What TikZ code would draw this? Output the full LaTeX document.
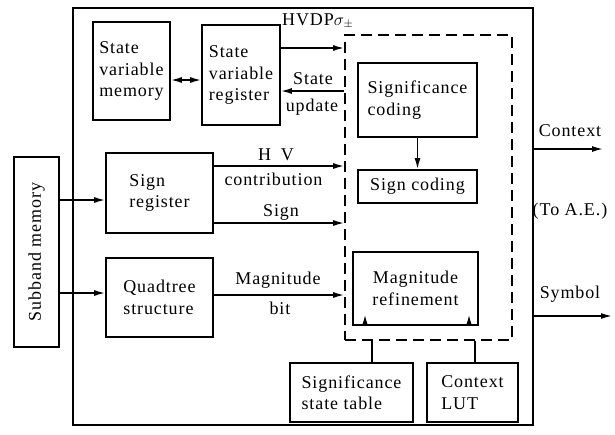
\documentclass[tikz,border=0pt]{standalone}
\usepackage{fontspec}
\setmainfont{Liberation Serif}[LetterSpace=5.0]
\usetikzlibrary{arrows.meta}
\begin{document}
\begin{tikzpicture}[x=1pt,y=-1pt,
  every node/.style={font=\fontsize{18}{21.5}\selectfont, inner sep=0pt},
  blk/.style={draw, line width=1.8pt, align=left},
  conn/.style={line width=1.5pt, -{Latex[length=11pt,width=6pt]}},
  lbl/.style={}]
\useasboundingbox (0,0) rectangle (615,434);
% outer frame
\node[draw, line width=1.8pt, minimum width=460pt, minimum height=417pt] (outer) at (303,216.5) {};
% dashed region
\node[draw, line width=1.8pt, dash pattern=on 11pt off 6pt, minimum width=167pt, minimum height=305pt] (dbox) at (428.5,187.5) {};
% blocks
\node[blk, minimum width=77pt, minimum height=98pt] (svm) at (131.5,71) {State\\variable\\memory};
\node[blk, minimum width=78pt, minimum height=100pt] (svr) at (241,75) {State\\variable\\register};
\node[blk, minimum width=119pt, minimum height=74pt] (sigc) at (417.5,100) {Significance\\coding};
\node[blk, minimum width=119pt, minimum height=33pt] (signc) at (417.5,186.5) {Sign coding};
\node[blk, align=center, minimum width=125pt, minimum height=73pt] (magr) at (415.5,288.5) {Magnitude\\refinement};
\node[blk, minimum width=123pt, minimum height=59pt] (sst) at (351.5,392.5) {Significance\\state table};
\node[blk, minimum width=91pt, minimum height=59pt] (lut) at (472.5,392.5) {Context\\LUT};
\node[blk, minimum width=107pt, minimum height=80pt] (sreg) at (159.5,193) {Sign\\register};
\node[blk, minimum width=107pt, minimum height=79pt] (qt) at (159.5,297.5) {Quadtree\\structure};
\node[blk, minimum width=45pt, minimum height=190pt] (sub) at (36.5,252) {};
\node[rotate=90] (subt) at (sub.center) {Subband memory};
% connectors
\draw[line width=1.5pt, {Latex[length=11pt,width=6pt]}-{Latex[length=11pt,width=6pt]}] ([yshift=-9pt]svm.east) -- ([yshift=-9pt]svm.east -| svr.west);
\draw[conn] ([yshift=27pt]svr.east) -- ([yshift=27pt]svr.east -| dbox.west);
\draw[conn] ([yshift=-16pt]svr.east -| dbox.west) -- ([yshift=-16pt]svr.east);
\draw[conn] (sigc.south) -- (signc.north);
\draw[conn] ([yshift=27pt]sreg.east) -- ([yshift=27pt]sreg.east -| dbox.west);
\draw[conn] ([yshift=-30pt]sreg.east) -- ([yshift=-30pt]sreg.east -| dbox.west);
\draw[conn] ([yshift=2.5pt]qt.east) -- ([yshift=2.5pt]qt.east -| dbox.west);
\draw[conn] ([yshift=-7pt]sreg.west -| sub.east) -- ([yshift=-7pt]sreg.west);
\draw[conn] ([yshift=4.5pt]qt.west -| sub.east) -- ([yshift=4.5pt]qt.west);
\draw[line width=1.5pt] ([xshift=20.5pt]sst.north) -- ([xshift=20.5pt]sst.north |- dbox.south);
\draw[line width=1.5pt] ([xshift=2.5pt]lut.north) -- ([xshift=2.5pt]lut.north |- dbox.south);
\coordinate (m1) at ([xshift=-50.5pt]magr.south);
\coordinate (m2) at ([xshift=53.5pt]magr.south);
\draw[line width=1.2pt, -{Latex[length=9pt,width=5pt]}] (m1) -- ++(0,-11);
\draw[line width=1.2pt, -{Latex[length=9pt,width=5pt]}] (m2) -- ++(0,-11);
\coordinate (ctxend) at (603,149);
\coordinate (symend) at (612,316);
\draw[conn] ([yshift=67.5pt]outer.east) -- (ctxend);
\draw[conn] ([yshift=-99.5pt]outer.east) -- (symend);
% labels
\node[anchor=west] (hvdp) at (282,21) {HVDP$\sigma_{\pm}$};
\node (st) at (313,79) {State};
\node (upd) at (312,107) {update};
\node (hv) at (276,155) {H\hspace{10pt}V};
\node (contr) at (273.5,179) {contribution};
\node (sgn) at (281,212) {Sign};
\node (mag) at (278,280) {Magnitude};
\node (bit) at (280,308) {bit};
\node (ctx) at (570,131) {Context};
\node (toae) at (570,211) {(To A.E.)};
\node (sym) at (570,294) {Symbol};
\end{tikzpicture}
\end{document}
